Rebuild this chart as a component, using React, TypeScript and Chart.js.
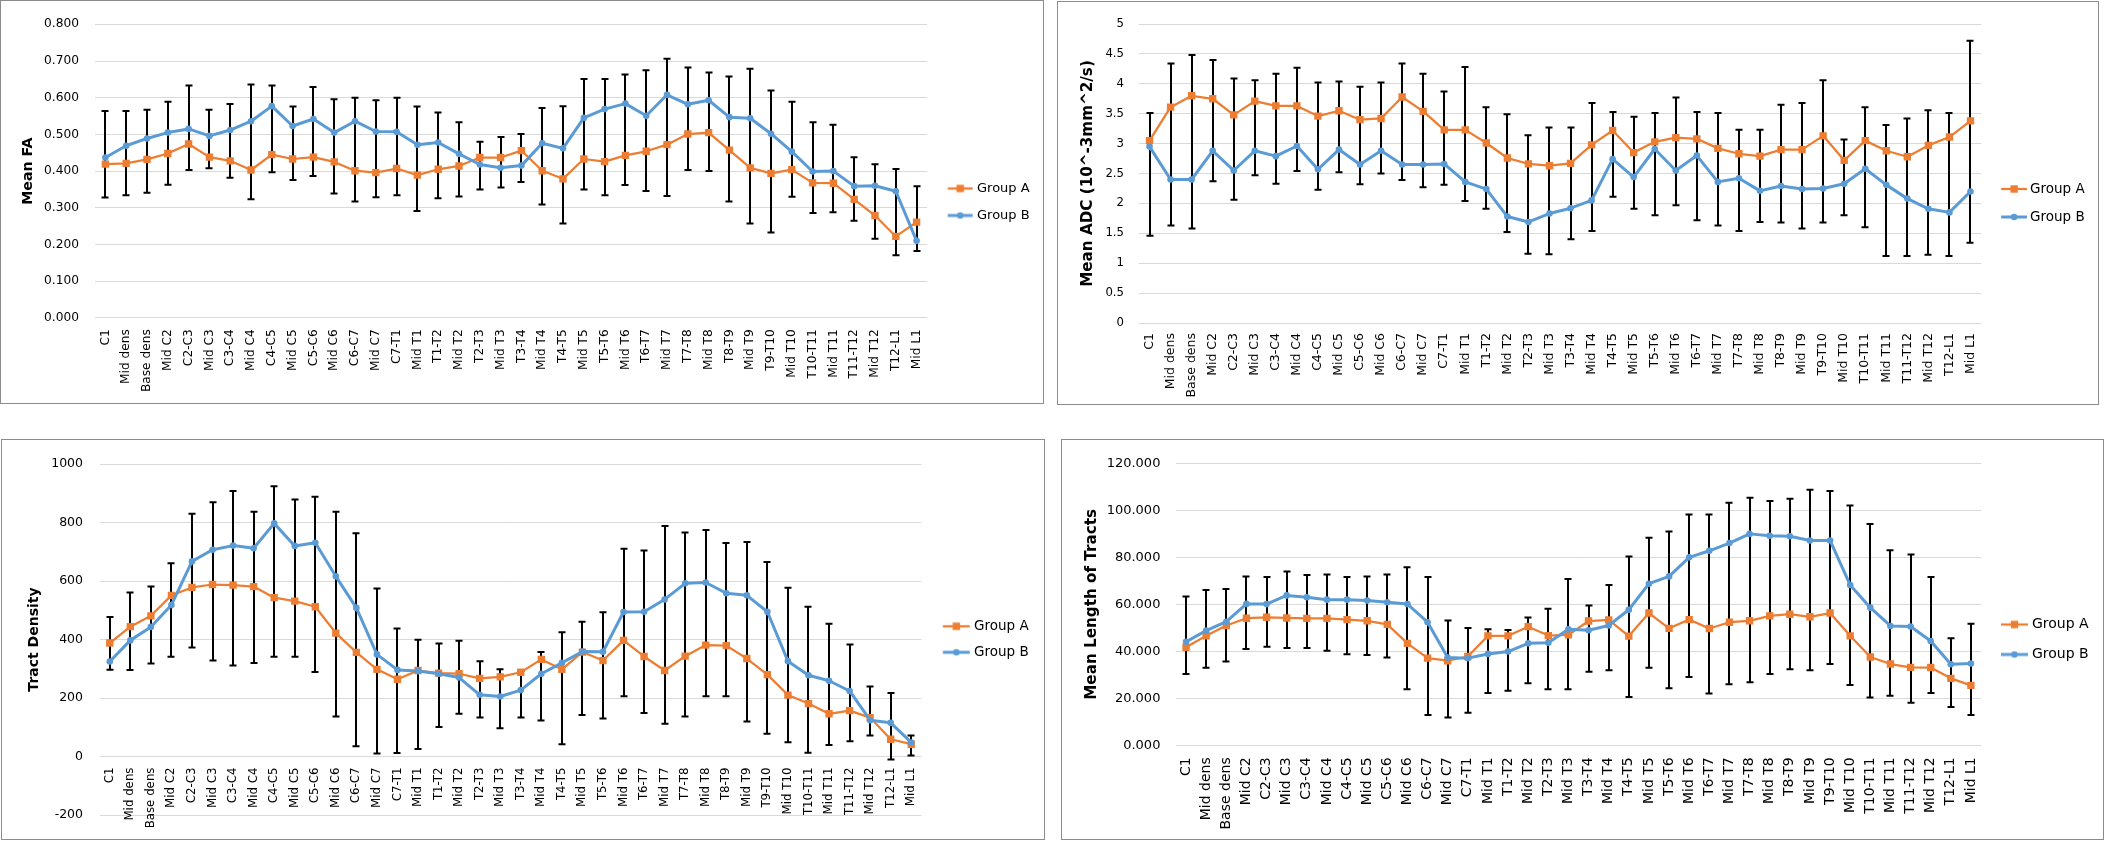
import React, { useEffect, useRef } from 'react';
import { Chart, registerables } from 'chart.js';

Chart.register(...registerables);

const categories = ['C1', 'Mid dens', 'Base dens', 'Mid C2', 'C2-C3', 'Mid C3', 'C3-C4', 'Mid C4', 'C4-C5', 'Mid C5', 'C5-C6', 'Mid C6', 'C6-C7', 'Mid C7', 'C7-T1', 'Mid T1', 'T1-T2', 'Mid T2', 'T2-T3', 'Mid T3', 'T3-T4', 'Mid T4', 'T4-T5', 'Mid T5', 'T5-T6', 'Mid T6', 'T6-T7', 'Mid T7', 'T7-T8', 'Mid T8', 'T8-T9', 'Mid T9', 'T9-T10', 'Mid T10', 'T10-T11', 'Mid T11', 'T11-T12', 'Mid T12', 'T12-L1', 'Mid L1'];
const seriesNames = ['Group A', 'Group B'];

// Mean FA
const faGroupA = [0.419, 0.421, 0.432, 0.448, 0.474, 0.438, 0.428, 0.403, 0.445, 0.433, 0.438, 0.425, 0.401, 0.396, 0.407, 0.389, 0.405, 0.414, 0.437, 0.437, 0.456, 0.401, 0.379, 0.433, 0.426, 0.443, 0.454, 0.472, 0.501, 0.505, 0.457, 0.409, 0.394, 0.404, 0.368, 0.367, 0.323, 0.279, 0.222, 0.261];
const faGroupB = [0.437, 0.469, 0.489, 0.505, 0.515, 0.496, 0.512, 0.536, 0.577, 0.523, 0.542, 0.505, 0.536, 0.508, 0.507, 0.472, 0.478, 0.447, 0.418, 0.409, 0.415, 0.476, 0.462, 0.545, 0.569, 0.584, 0.551, 0.608, 0.582, 0.593, 0.547, 0.544, 0.502, 0.453, 0.399, 0.400, 0.359, 0.360, 0.345, 0.210];
const faErrHigh = [0.564, 0.564, 0.567, 0.589, 0.633, 0.567, 0.583, 0.636, 0.633, 0.576, 0.629, 0.596, 0.600, 0.593, 0.600, 0.576, 0.560, 0.533, 0.480, 0.493, 0.501, 0.572, 0.577, 0.651, 0.651, 0.663, 0.675, 0.706, 0.682, 0.669, 0.658, 0.679, 0.620, 0.589, 0.533, 0.526, 0.438, 0.419, 0.406, 0.359];
const faErrLow = [0.328, 0.334, 0.341, 0.363, 0.403, 0.408, 0.382, 0.323, 0.397, 0.376, 0.387, 0.339, 0.317, 0.329, 0.334, 0.291, 0.326, 0.331, 0.350, 0.355, 0.370, 0.309, 0.257, 0.350, 0.334, 0.362, 0.346, 0.332, 0.403, 0.400, 0.317, 0.257, 0.233, 0.330, 0.286, 0.288, 0.265, 0.216, 0.171, 0.182];

// Mean ADC
const adcGroupA = [3.05, 3.61, 3.80, 3.75, 3.48, 3.71, 3.63, 3.63, 3.46, 3.55, 3.40, 3.42, 3.78, 3.54, 3.23, 3.23, 3.01, 2.76, 2.66, 2.63, 2.67, 2.98, 3.22, 2.85, 3.03, 3.10, 3.08, 2.92, 2.83, 2.79, 2.90, 2.90, 3.13, 2.72, 3.05, 2.88, 2.78, 2.97, 3.11, 3.38];
const adcGroupB = [2.95, 2.40, 2.40, 2.88, 2.55, 2.88, 2.79, 2.96, 2.57, 2.90, 2.65, 2.88, 2.65, 2.65, 2.66, 2.36, 2.24, 1.78, 1.69, 1.83, 1.92, 2.05, 2.74, 2.44, 2.91, 2.55, 2.80, 2.36, 2.42, 2.21, 2.29, 2.24, 2.25, 2.33, 2.58, 2.31, 2.08, 1.91, 1.85, 2.20];
const adcErrHigh = [3.51, 4.34, 4.48, 4.40, 4.09, 4.06, 4.17, 4.27, 4.02, 4.04, 3.95, 4.02, 4.34, 4.17, 3.87, 4.28, 3.61, 3.49, 3.14, 3.27, 3.27, 3.68, 3.53, 3.45, 3.51, 3.77, 3.53, 3.51, 3.23, 3.23, 3.65, 3.68, 4.06, 3.07, 3.61, 3.31, 3.42, 3.56, 3.51, 4.72];
const adcErrLow = [1.46, 1.63, 1.58, 2.37, 2.06, 2.47, 2.33, 2.54, 2.23, 2.52, 2.32, 2.50, 2.39, 2.27, 2.31, 2.04, 1.91, 1.52, 1.16, 1.15, 1.40, 1.54, 2.11, 1.91, 1.80, 1.97, 1.72, 1.63, 1.54, 1.69, 1.68, 1.58, 1.68, 1.80, 1.60, 1.12, 1.12, 1.14, 1.12, 1.34];

// Tract Density
const densGroupA = [388, 444, 481, 551, 578, 588, 586, 581, 543, 531, 512, 422, 356, 298, 264, 294, 285, 283, 267, 272, 288, 332, 298, 357, 328, 397, 342, 294, 343, 381, 379, 335, 280, 210, 181, 146, 157, 133, 59, 42];
const densGroupB = [325, 397, 443, 518, 667, 707, 721, 712, 797, 720, 731, 616, 508, 349, 296, 292, 283, 270, 211, 205, 227, 283, 320, 359, 358, 494, 495, 537, 592, 595, 558, 551, 495, 326, 278, 259, 224, 124, 115, 48];
const densErrHigh = [477, 561, 581, 661, 830, 869, 908, 837, 924, 879, 888, 837, 763, 574, 438, 399, 386, 396, 326, 298, 292, 357, 425, 461, 493, 710, 704, 788, 766, 774, 730, 733, 665, 577, 512, 454, 383, 239, 217, 72];
const densErrLow = [297, 296, 318, 341, 373, 328, 311, 320, 341, 341, 289, 137, 35, 10, 12, 26, 101, 146, 133, 97, 133, 123, 42, 142, 130, 206, 149, 112, 137, 206, 206, 120, 78, 49, 13, 39, 52, 72, -10, 3];

// Mean Length of Tracts
const lenGroupA = [41.7, 46.6, 51.0, 54.1, 54.5, 54.2, 54.0, 54.0, 53.5, 53.0, 51.5, 43.4, 37.1, 36.0, 37.8, 46.6, 46.6, 50.5, 46.7, 47.0, 52.9, 53.4, 46.5, 56.3, 49.8, 53.5, 49.7, 52.4, 53.0, 55.1, 55.8, 54.7, 56.3, 46.6, 37.6, 34.6, 33.2, 33.1, 28.5, 25.5];
const lenGroupB = [44.1, 48.8, 52.6, 60.2, 60.1, 63.8, 63.0, 62.0, 62.0, 61.6, 60.9, 60.1, 52.4, 37.4, 37.1, 38.9, 39.9, 43.4, 43.7, 49.4, 49.0, 51.0, 57.7, 68.8, 71.9, 80.0, 82.8, 86.1, 90.0, 89.2, 89.0, 87.2, 87.2, 68.2, 58.6, 50.8, 50.6, 44.4, 34.5, 34.8];
const lenErrHigh = [63.3, 66.1, 66.5, 71.9, 71.6, 74.0, 72.5, 72.7, 71.6, 71.9, 72.7, 75.8, 71.6, 53.1, 49.9, 49.4, 49.1, 54.4, 58.1, 70.8, 59.5, 68.2, 80.4, 88.3, 91.0, 98.3, 98.3, 103.3, 105.4, 104.0, 104.9, 108.8, 108.2, 102.1, 94.2, 83.0, 81.2, 71.6, 45.6, 51.7];
const lenErrLow = [30.3, 33.0, 35.7, 41.0, 42.0, 41.4, 41.4, 40.3, 38.8, 38.4, 37.4, 23.9, 12.9, 11.8, 13.9, 22.3, 23.2, 26.4, 23.9, 23.9, 31.3, 32.0, 20.6, 33.0, 24.3, 29.1, 22.0, 26.0, 26.8, 30.3, 32.4, 32.0, 34.6, 25.7, 20.4, 21.1, 18.1, 22.3, 16.3, 12.9];

const ORANGE = '#ED7D31';
const BLUE = '#5B9BD5';
const FONT = '"DejaVu Sans", "Liberation Sans", sans-serif';

const fmt3 = (v: number) => Number(v).toFixed(3);
const fmtPlain = (v: number) => String(parseFloat(Number(v).toFixed(2)));

type Panel = {
  key: string;
  px: number; py: number; w: number; h: number; // canvas box on page
  a: number[]; b: number[]; low: number[]; high: number[];
  yMin: number; yMax: number; yStep: number; fmt: (v: number) => string;
  title: string; titleSize: number; titleX: number;
  tickSize: number; tickPad: number; xSize: number; xPad: number;
  legSize: number; legPad: number; legLs: number; legLe: number; legText: number;
  left: number; right: number; top: number; bottom: number;
  xAtZero?: boolean;
};

const panels: Panel[] = [
  {
    key: 'fa', px: 1, py: 1, w: 1042, h: 402,
    a: faGroupA, b: faGroupB, low: faErrLow, high: faErrHigh,
    yMin: 0, yMax: 0.8, yStep: 0.1, fmt: fmt3,
    title: 'Mean FA', titleSize: 14.2, titleX: 27,
    tickSize: 12.2, tickPad: 16, xSize: 12.2, xPad: 11.3,
    legSize: 13, legPad: 14, legLs: 21, legLe: 46, legText: 50,
    left: 94, right: 926, top: 15.7, bottom: 316.9,
  },
  {
    key: 'adc', px: 1058, py: 2, w: 1040, h: 402,
    a: adcGroupA, b: adcGroupB, low: adcErrLow, high: adcErrHigh,
    yMin: 0, yMax: 5, yStep: 0.5, fmt: fmtPlain,
    title: 'Mean ADC (10^-3mm^2/s)', titleSize: 15.2, titleX: 30,
    tickSize: 11.7, tickPad: 15, xSize: 12.5, xPad: 10,
    legSize: 13.5, legPad: 14.5, legLs: 20, legLe: 46, legText: 49,
    left: 81, right: 923, top: 14.7, bottom: 321,
  },
  {
    key: 'dens', px: 2, py: 440, w: 1042, h: 399,
    a: densGroupA, b: densGroupB, low: densErrLow, high: densErrHigh,
    yMin: -200, yMax: 1000, yStep: 200, fmt: fmtPlain,
    title: 'Tract Density', titleSize: 14, titleX: 32,
    tickSize: 12.5, tickPad: 16.5, xSize: 11.8, xPad: 11,
    legSize: 13.5, legPad: 12.5, legLs: 21.5, legLe: 48.5, legText: 52.5,
    left: 97.5, right: 919.5, top: 14.3, bottom: 384.3,
    xAtZero: true,
  },
  {
    key: 'len', px: 1062, py: 440, w: 1041, h: 399,
    a: lenGroupA, b: lenGroupB, low: lenErrLow, high: lenErrHigh,
    yMin: 0, yMax: 120, yStep: 20, fmt: fmt3,
    title: 'Mean Length of Tracts', titleSize: 15.2, titleX: 30,
    tickSize: 13, tickPad: 15.6, xSize: 14, xPad: 12,
    legSize: 14, legPad: 16, legLs: 20, legLe: 47, legText: 51,
    left: 114, right: 919, top: 17.7, bottom: 305.3,
  },
];

function makeErrorBars(low: number[], high: number[]) {
  return {
    id: 'errorBars',
    beforeDatasetsDraw(chart: any) {
      const xs = chart.scales.x;
      const ys = chart.scales.y;
      const ctx = chart.ctx;
      ctx.save();
      ctx.strokeStyle = '#000';
      ctx.lineWidth = 2;
      ctx.lineCap = 'butt';
      for (let i = 0; i < low.length; i++) {
        const x = Math.round(xs.getPixelForValue(i));
        const yt = ys.getPixelForValue(high[i]);
        const yb = ys.getPixelForValue(low[i]);
        ctx.beginPath();
        ctx.moveTo(x, yt - 1);
        ctx.lineTo(x, yb + 1);
        ctx.moveTo(x - 3.5, yt);
        ctx.lineTo(x + 3.5, yt);
        ctx.moveTo(x - 3.5, yb);
        ctx.lineTo(x + 3.5, yb);
        ctx.stroke();
      }
      ctx.restore();
    },
  };
}

function legendIcon(color: string, style: 'rect' | 'circle', width: number, ls: number, le: number, lw: number) {
  const c = document.createElement('canvas');
  c.width = Math.max(1, Math.round(width));
  c.height = 12;
  const g = c.getContext('2d')!;
  g.strokeStyle = color;
  g.fillStyle = color;
  g.lineWidth = lw;
  g.beginPath();
  g.moveTo(ls, 6);
  g.lineTo(le, 6);
  g.stroke();
  const cx = (ls + le) / 2;
  if (style === 'rect') {
    g.fillRect(cx - 3.7, 6 - 3.7, 7.4, 7.4);
  } else {
    g.beginPath();
    g.arc(cx, 6, 3.3, 0, Math.PI * 2);
    g.fill();
  }
  return c;
}

function PanelChart({ p }: { p: Panel }) {
  const ref = useRef<HTMLCanvasElement | null>(null);
  useEffect(() => {
    const canvas = ref.current;
    if (!canvas) return;
    // Charts with a bottom category axis: an empty title box reserves the top space so the
    // full-height legend stays centred on the whole panel; the axis box reaches the canvas bottom.
    const useTitleBox = !p.xAtZero;
    const padTop = useTitleBox ? 0 : p.top;
    const padBottom = useTitleBox ? 0 : p.h - p.bottom;
    const xHeight = p.h - p.bottom;

    // legend geometry, relative to chart area right edge
    const boxW = p.legText - p.legSize / 2 - p.legPad;
    const center = p.legPad + boxW / 2;
    const half = Math.max(p.legLe - center, center - p.legLs);
    const iconW = half * 2;
    const off = center - half;
    const icons = [
      legendIcon(ORANGE, 'rect', iconW, p.legLs - off, p.legLe - off, 2.25),
      legendIcon(BLUE, 'circle', iconW, p.legLs - off, p.legLe - off, 3),
    ];
    const mctx = document.createElement('canvas').getContext('2d')!;
    mctx.font = `${p.legSize}px ${FONT}`;
    const textW = Math.max(...seriesNames.map((s) => mctx.measureText(s).width));
    const legendWidth = p.legPad + boxW + p.legSize / 2 + textW + 10;
    const padRight = p.w - p.right - legendWidth;

    const chart = new Chart(canvas, {
      type: 'line',
      data: {
        labels: categories,
        datasets: [
          {
            label: seriesNames[0], data: p.a, borderColor: ORANGE, backgroundColor: ORANGE,
            borderWidth: 2.25, pointStyle: 'rect', pointRadius: 5.2, pointHoverRadius: 5.2,
            pointBorderWidth: 0, pointBackgroundColor: ORANGE, tension: 0, order: 1,
            borderJoinStyle: 'round', fill: false,
          },
          {
            label: seriesNames[1], data: p.b, borderColor: BLUE, backgroundColor: BLUE,
            borderWidth: 3, pointStyle: 'circle', pointRadius: 3.3, pointHoverRadius: 3.3,
            pointBorderWidth: 0, pointBackgroundColor: BLUE, tension: 0, order: 0,
            borderJoinStyle: 'round', fill: false,
          },
        ],
      },
      options: {
        responsive: false,
        animation: false,
        events: [],
        layout: { padding: { left: 0, top: padTop, bottom: padBottom, right: padRight } },
        plugins: {
          tooltip: { enabled: false },
          title: {
            display: useTitleBox,
            text: ' ',
            font: { size: 1, lineHeight: 1 },
            padding: { top: 0, bottom: Math.max(0, p.top - 1) },
          },
          legend: {
            display: true,
            position: 'right',
            align: 'center',
            labels: {
              usePointStyle: true,
              pointStyleWidth: boxW,
              padding: p.legPad,
              color: '#000',
              font: { family: FONT, size: p.legSize },
              generateLabels: (ch: any) =>
                ch.data.datasets.map((ds: any, i: number) => ({
                  text: ds.label,
                  pointStyle: icons[i],
                  fillStyle: ds.borderColor,
                  strokeStyle: ds.borderColor,
                  lineWidth: 0,
                  hidden: false,
                  datasetIndex: i,
                  fontColor: '#000',
                })),
            },
          },
        },
        scales: {
          x: {
            type: 'category',
            offset: true,
            position: p.xAtZero ? ({ y: 0 } as any) : 'bottom',
            grid: { display: false, drawTicks: false },
            border: { display: false },
            ticks: {
              autoSkip: false, minRotation: 90, maxRotation: 90, padding: p.xPad,
              color: '#000', font: { family: FONT, size: p.xSize },
            },
            afterFit: (s: any) => { if (!p.xAtZero) s.height = xHeight; },
          },
          y: {
            type: 'linear',
            min: p.yMin, max: p.yMax,
            grid: { color: '#d9d9d9', lineWidth: 1, drawTicks: false },
            border: { display: false },
            ticks: {
              stepSize: p.yStep, padding: p.tickPad, color: '#000',
              font: { family: FONT, size: p.tickSize },
              callback: (v: any) => p.fmt(Number(v)),
            },
            title: {
              display: true, text: p.title, color: '#000',
              font: { family: FONT, size: p.titleSize, weight: 'bold' },
              padding: { top: p.titleX - (p.titleSize * 1.2) / 2, bottom: 0 },
            },
            afterFit: (s: any) => { s.width = p.left; },
          },
        },
      },
      plugins: [makeErrorBars(p.low, p.high)],
    } as any);

    const delta = chart.chartArea.right - p.right;
    if (Math.abs(delta) > 0.05) {
      (chart.options as any).layout.padding.right = padRight + delta;
      chart.update();
    }
    return () => chart.destroy();
  }, [p]);

  return (
    <div
      style={{
        position: 'absolute', left: p.px - 1, top: p.py - 1, width: p.w, height: p.h,
        border: '1px solid #8c8c8c', background: '#fff',
      }}
    >
      <canvas ref={ref} width={p.w} height={p.h} style={{ display: 'block', width: p.w, height: p.h }} />
    </div>
  );
}

export default function App() {
  return (
    <div style={{ position: 'absolute', left: 0, top: 0, width: 2116, height: 854, background: '#fff' }}>
      {panels.map((p) => (
        <PanelChart key={p.key} p={p} />
      ))}
    </div>
  );
}
